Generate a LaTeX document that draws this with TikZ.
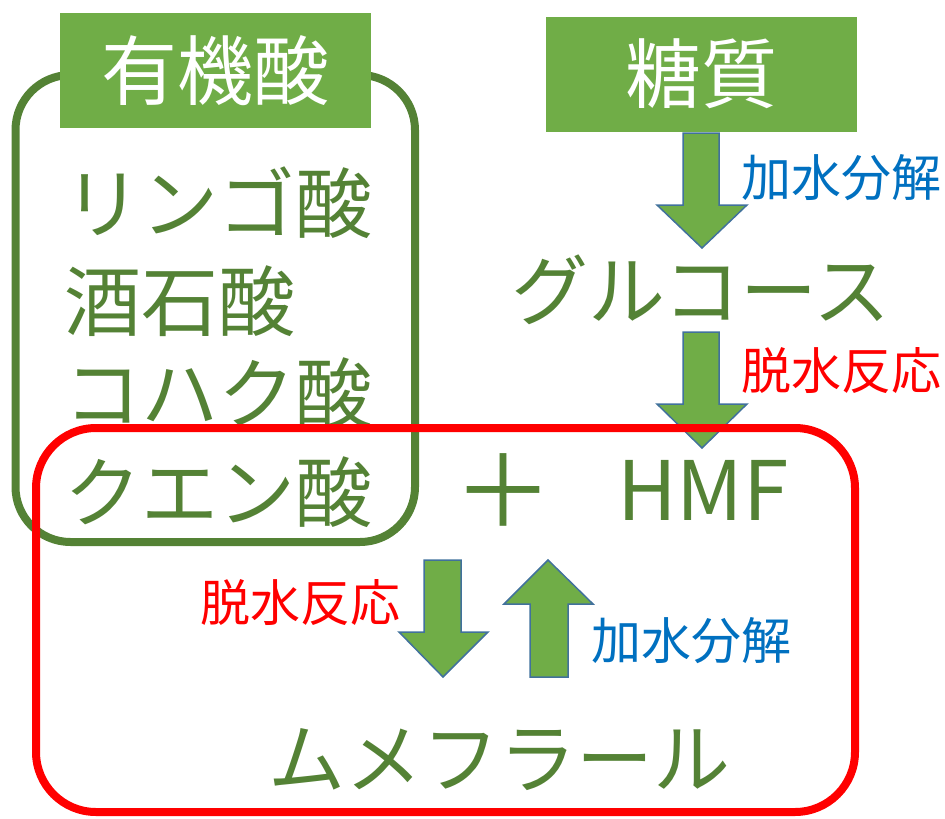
\documentclass[tikz,border=0pt]{standalone}
\usepackage{fontspec}
\setmainfont{Noto Sans CJK JP}
\definecolor{lgreen}{HTML}{70AD47}
\definecolor{dgreen}{HTML}{548235}
\definecolor{arrline}{HTML}{41719C}
\definecolor{tblue}{HTML}{0070C0}
\definecolor{tred}{HTML}{FF0000}
\tikzset{
  headbox/.style={fill=lgreen, inner sep=0pt, minimum width=311pt, minimum height=115pt,
    text=white, font=\fontsize{76}{76}\selectfont},
  bigtext/.style={text=dgreen, inner sep=0pt, font=\fontsize{77}{77}\selectfont},
  bluelab/.style={text=tblue, inner sep=0pt, font=\fontsize{50}{50}\selectfont},
  redlab/.style={text=tred, inner sep=0pt, font=\fontsize{50}{50}\selectfont},
  blockarrow/.style={fill=lgreen, draw=arrline, line width=1.5pt, line join=miter},
  groupbox/.style={draw=dgreen, line width=8pt, rounded corners=55pt},
  redbox/.style={draw=tred, line width=8pt, rounded corners=60pt}
}
\begin{document}
\begin{tikzpicture}[x=1pt,y=-1pt]
\useasboundingbox (0,0) rectangle (945,819);
% organic acid group
\draw[groupbox] (15.5,75) rectangle (415,542);
\node[headbox] (yuki) at (215.5,70.5) {有機酸};
\node[bigtext, anchor=west] (ringo) at (64,203) {リンゴ酸};
\node[bigtext, anchor=west] (shuseki) at (64,301) {酒石酸};
\node[bigtext, anchor=west] (kohaku) at (64,393) {コハク酸};
\node[bigtext, anchor=west] (kuen) at (64,492) {クエン酸};
% sugar
\node[headbox] (toshitsu) at (701.5,74) {糖質};
\node[bigtext] (glucose) at (701,290) {グルコース};
% arrow 1
\draw[blockarrow] (683,133) -- (719,133) -- (719,205) -- (747,205) -- (702,248) -- (657,205) -- (683,205) -- cycle;
\node[bluelab] (kasui1) at (841,178) {加水分解};
% arrow 2
\draw[blockarrow] (683,332) -- (719,332) -- (719,404) -- (747,404) -- (702,448) -- (657,404) -- (683,404) -- cycle;
\node[redlab] (dassui1) at (841,371) {脱水反応};
% HMF group
\node[bigtext, font=\fontsize{100}{100}\selectfont] (plus) at (503,491) {＋};
\node[bigtext, font=\fontsize{82}{82}\selectfont] (hmf) at (703,490) {HMF};
\draw[redbox] (36,428) rectangle (855,812);
% lower arrows
\draw[blockarrow] (424,560) -- (461,560) -- (461,632) -- (488,632) -- (443,677) -- (399,632) -- (424,632) -- cycle;
\draw[blockarrow] (548,560) -- (593,604) -- (568,604) -- (568,677) -- (530,677) -- (530,604) -- (504,604) -- cycle;
\node[redlab] (dassui2) at (300,603) {脱水反応};
\node[bluelab] (kasui2) at (691,641) {加水分解};
\node[bigtext] (mume) at (499,760) {ムメフラール};
\end{tikzpicture}
\end{document}
